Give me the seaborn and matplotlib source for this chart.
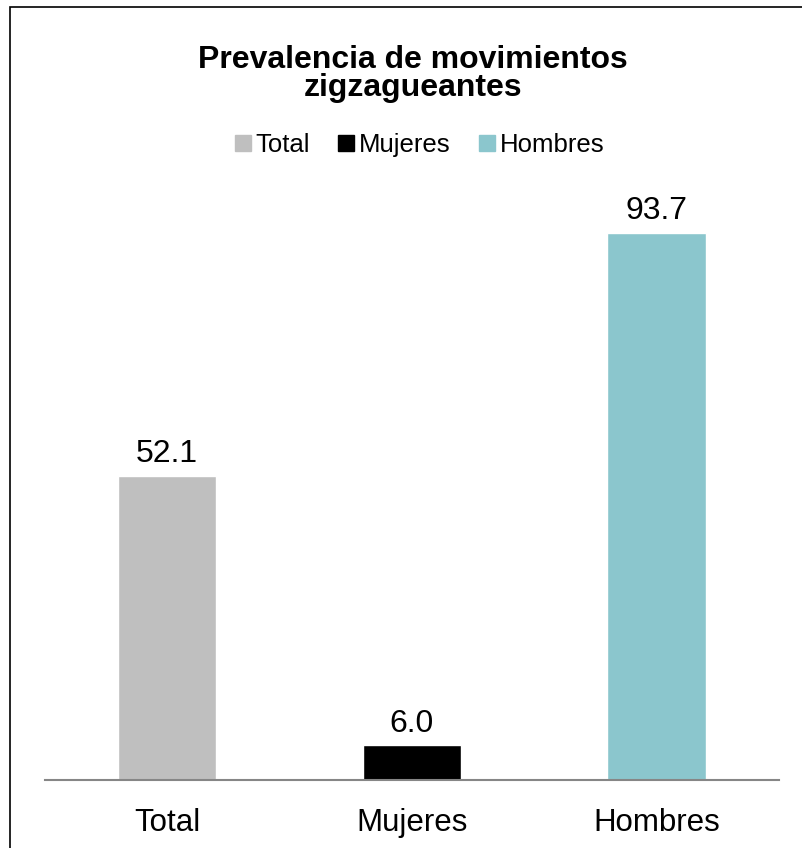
import matplotlib
matplotlib.use("Agg")
import matplotlib.pyplot as plt
import seaborn as sns
import pandas as pd
from matplotlib.lines import Line2D
from matplotlib.patches import Rectangle

# data
categories = ["Total", "Mujeres", "Hombres"]
values = [52.1, 6.0, 93.7]
colors = ["#BFBFBF", "#000000", "#8BC6CD"]
title = "Prevalencia de movimientos\nzigzagueantes"

sns.set_style("white")
plt.rcParams['font.family'] = ['Liberation Sans', 'DejaVu Sans']
plt.rcParams['text.color'] = 'black'
plt.rcParams['xtick.color'] = 'black'

df = pd.DataFrame({"cat": categories, "val": values})

fig = plt.figure(figsize=(8.02, 8.48), dpi=100)
ax = fig.add_axes([0.0555, 0.0802, 0.9164, 0.689])

sns.barplot(data=df, x="cat", y="val", hue="cat", palette=colors,
            width=0.404, legend=False, ax=ax, saturation=1)

ax.set_ylim(0, 100)
ax.set_xlim(-0.5, 2.5)
ax.set_xlabel("")
ax.set_ylabel("")
ax.set_yticks([])
ax.tick_params(axis='x', length=0, labelsize=22.5, pad=20)
for s in ["top", "right", "left"]:
    ax.spines[s].set_visible(False)
ax.spines["bottom"].set_color("#868686")
ax.spines["bottom"].set_linewidth(1.5)

for container in ax.containers:
    ax.bar_label(container, fmt="%.1f", fontsize=23, padding=4.5)

fig.text(0.515, 0.9125, title, ha="center", va="center", fontsize=23,
         fontweight="bold", linespacing=0.92)

handles = [Line2D([], [], marker="s", linestyle="", markersize=12,
                  markerfacecolor=c, markeredgecolor=c) for c in colors]
fig.legend(handles, categories, loc="center", bbox_to_anchor=(0.52, 0.829),
           ncol=3, frameon=False, fontsize=18.5, handletextpad=0.0,
           columnspacing=0.9, handlelength=1.0)

# outer frame (partial, chart area is cropped at right/bottom)
fig.add_artist(Rectangle((10 / 802, -0.1), 1.2, 1.1 - 7 / 848,
                         transform=fig.transFigure, fill=False,
                         edgecolor="#000000", linewidth=1.2))

fig.savefig("out.png", dpi=100)
